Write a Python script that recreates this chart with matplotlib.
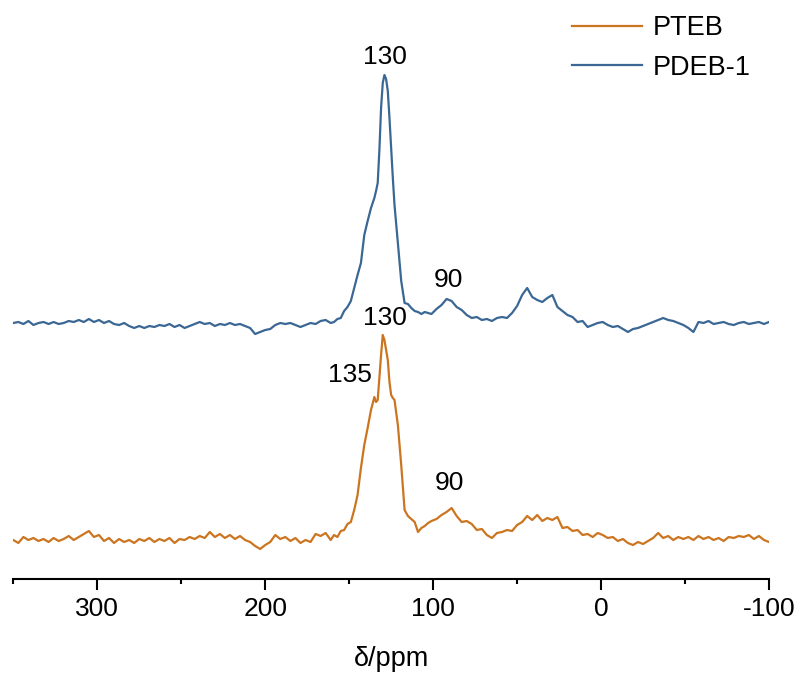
import matplotlib
matplotlib.use("Agg")
import matplotlib.pyplot as plt
from matplotlib.ticker import MultipleLocator

plt.rcParams['font.family'] = ['Liberation Sans', 'DejaVu Sans']

# chemical shift grid (ppm)
ppm = [350, 347, 344, 341, 338, 335, 332, 329, 326, 323, 320, 317, 314, 311, 308, 305,
       302, 299, 296, 293, 290, 287, 284, 281, 278, 275, 272, 269, 266, 263, 260, 257,
       254, 251, 248, 245, 242, 239, 236, 233, 230, 227, 224, 221, 218, 215, 212, 209,
       206, 203, 200, 197, 194, 191, 188, 185, 182, 179, 176, 173, 170, 167, 164, 161,
       159, 157, 155, 153, 151, 149, 147, 145, 143, 141, 139, 137, 135, 134, 133, 132,
       131, 130, 129, 128, 127, 126, 125, 124, 123, 121, 119, 117, 115, 113, 111, 109,
       107, 105, 103, 101,
       98, 95, 92, 89, 86, 83, 80, 77, 74, 71, 68, 65, 62, 59, 56, 53, 50, 47, 44, 41,
       38, 35, 32, 29, 26, 23, 20, 17, 14, 11, 8, 5, 2, -1, -4, -7, -10, -13, -16, -19,
       -22, -25, -28, -31, -34, -37, -40, -43, -46, -49, -52, -55, -58, -61, -64, -67,
       -70, -73, -76, -79, -82, -85, -88, -91, -94, -97, -100]

# PTEB intensity (a.u.)
pteb = [0, -3, 3, 0, 2, -1, 1, -2, 2, -1, 1, 4, 0, 3, 6, 9,
        3, 5, -1, 2, -3, 1, -2, 0, -3, 1, -1, 2, -2, 1, -1, 2,
        -3, 1, 0, 3, 1, 4, 2, 8, 3, 6, 2, 5, 1, 4, 0, -2,
        -6, -9, -5, -2, 5, 1, 3, -1, 2, -3, 0, -2, 6, 4, 7, 0,
        5, 3, 9, 10, 16, 18, 30, 45, 72, 95, 112, 130, 143, 138, 140, 163,
        185, 205, 200, 190, 180, 158, 145, 142, 140, 115, 75, 30, 24, 21, 18, 8,
        12, 14, 17, 19,
        21, 25, 28, 32, 24, 18, 19, 16, 10, 11, 5, 2, 7, 8, 10, 9, 15, 18, 24, 20,
        25, 19, 22, 20, 23, 12, 13, 9, 10, 5, 6, 3, 7, 5, 2, 3, -1, 1, -3, -5,
        -2, -4, -1, 2, 7, 2, 4, 0, 3, 1, 3, 0, 4, 1, 3, 0,
        2, -1, 3, 2, 4, 3, 5, 1, 4, 0, -2]

# PDEB-1 intensity (a.u.)
pdeb = [0, 1, -1, 2, -2, 0, 1, -1, 1, -1, 0, 2, 1, 3, 1, 4,
        1, 3, 0, 2, -1, -2, 0, -3, -5, -3, -5, -3, -4, -2, -3, -1,
        -4, -2, -5, -3, -1, 1, -1, 0, -3, -1, -2, 0, -2, -1, -3, -5,
        -11, -9, -7, -6, -2, 0, -1, 0, -2, -4, -2, 0, -1, 2, 3, 0,
        1, 4, 5, 12, 16, 22, 35, 48, 60, 88, 102, 115, 125, 132, 140, 173,
        215, 240, 248, 244, 232, 205, 175, 145, 118, 80, 42, 20, 19, 15, 12, 11,
        9, 11, 10, 9,
        14, 18, 24, 22, 16, 13, 8, 5, 6, 3, 4, 2, 5, 6, 5, 10, 17, 28, 35, 26,
        23, 21, 25, 28, 16, 12, 8, 6, 1, 2, -4, -2, 0, 1, -2, -4, -3, -6, -9, -6,
        -5, -3, -1, 1, 3, 5, 3, 2, 0, -2, -5, -9, 1, 0, 2, -1,
        0, 1, -1, -2, 0, 1, -1, 0, 1, -1, 1]

offset = 217  # vertical stacking of the two spectra

fig = plt.figure(figsize=(8, 6.77), dpi=100)
ax = fig.add_axes([13.3 / 800, 98.3 / 677, 755.7 / 800, 578.7 / 677])

l1, = ax.plot(ppm, pteb, color='#cc7520', lw=1.6)
l2, = ax.plot(ppm, [v + offset for v in pdeb], color='#3a6794', lw=1.6)

ax.set_xlim(350, -100)
ax.set_ylim(-38.7, 540)

for s in ['top', 'right', 'left']:
    ax.spines[s].set_visible(False)
ax.spines['bottom'].set_linewidth(1.5)
ax.set_yticks([])
ax.xaxis.set_major_locator(MultipleLocator(100))
ax.xaxis.set_minor_locator(MultipleLocator(50))
ax.tick_params(axis='x', which='major', length=8, width=1.5, labelsize=19, pad=5)
ax.tick_params(axis='x', which='minor', length=3.6, width=1.5)
ax.set_xticks([300, 200, 100, 0, -100])
ax.set_xticklabels(['300', '200', '100', '0', '-100'])
ax.set_xlabel('\u03b4/ppm', fontsize=19.5, labelpad=18)

# peak labels
fs = 19
ax.text(128.6, 483, '130', fontsize=fs, ha='center', va='center')
ax.text(91, 260, '90', fontsize=fs, ha='center', va='center')
ax.text(128.6, 222, '130', fontsize=fs, ha='center', va='center')
ax.text(149.4, 165, '135', fontsize=fs, ha='center', va='center')
ax.text(90, 57, '90', fontsize=fs, ha='center', va='center')

fig.legend([l1, l2], ['PTEB', 'PDEB-1'], loc='upper left',
           bbox_to_anchor=(572 / 800, 1 - 15 / 677), frameon=False,
           fontsize=19.5, handlelength=2.6, handletextpad=0.38,
           labelspacing=0.5, borderpad=0, borderaxespad=0)

fig.savefig('out.png', dpi=100)
